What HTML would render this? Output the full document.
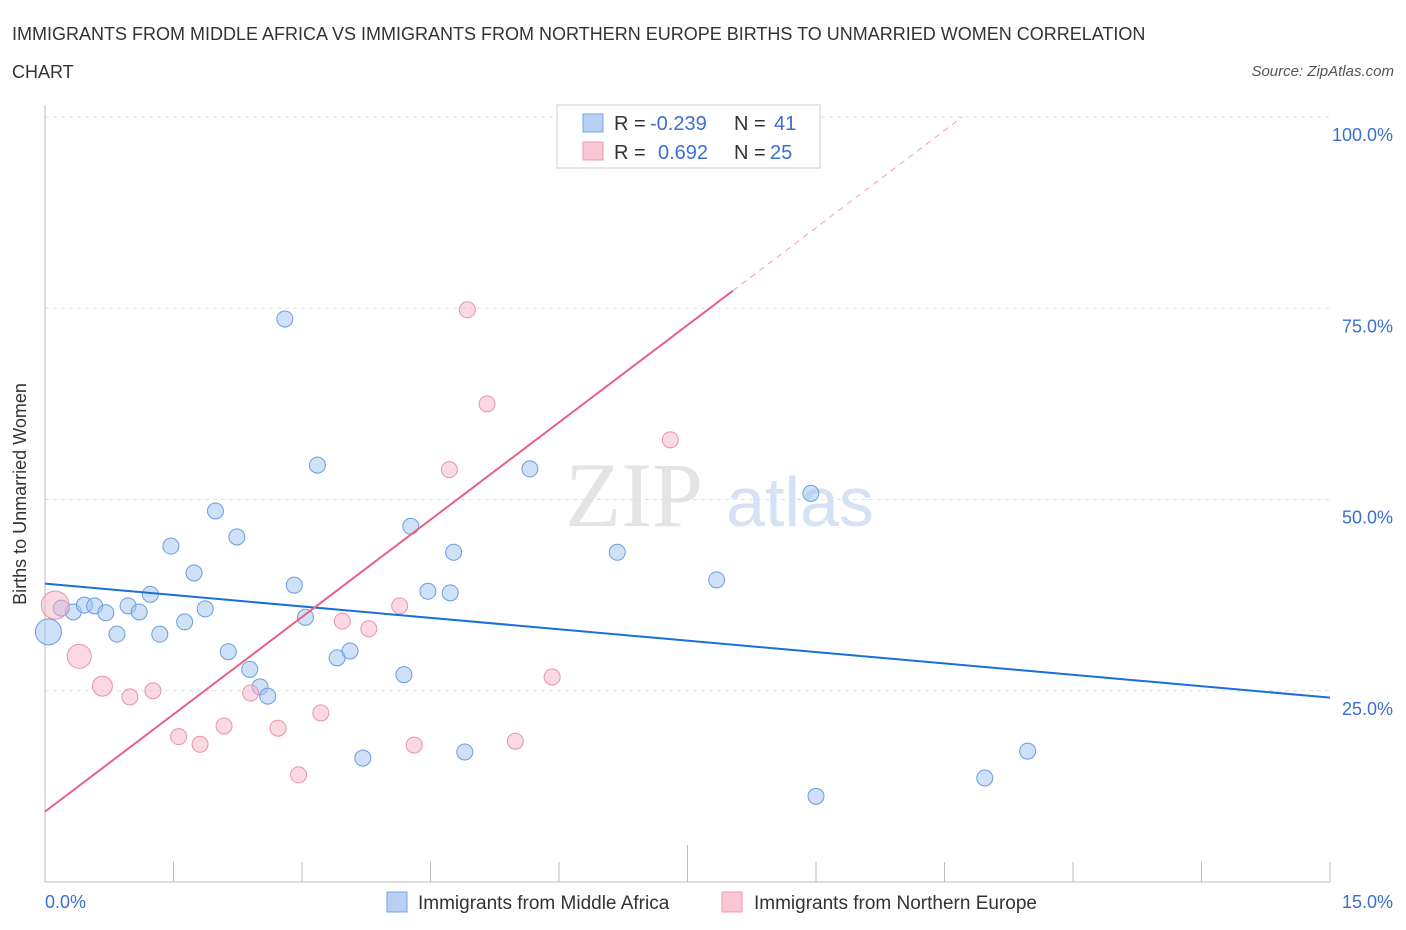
<!DOCTYPE html>
<html><head><meta charset="utf-8"><style>
body{margin:0;background:#fff;font-family:"Liberation Sans",sans-serif;}
svg{display:block}
</style></head><body>
<svg id="chart" width="1406" height="930" xmlns="http://www.w3.org/2000/svg">
<text x="12" y="40" font-size="18" fill="#333">IMMIGRANTS FROM MIDDLE AFRICA VS IMMIGRANTS FROM NORTHERN EUROPE BIRTHS TO UNMARRIED WOMEN CORRELATION</text>
<text x="12" y="78" font-size="18" fill="#333">CHART</text>
<text x="1394" y="76" font-size="15" font-style="italic" fill="#555" text-anchor="end">Source: ZipAtlas.com</text>
<g>
<text x="634" y="526" font-size="92" font-family="Liberation Serif,serif" fill="#e4e4e4" text-anchor="middle">ZIP</text>
<text x="800" y="526" font-size="70" fill="#d4e2f4" text-anchor="middle">atlas</text>
</g>
<g id="grid"></g>
<g id="axes"></g>
<g id="marks"></g>
<text x="26" y="494" font-size="18" fill="#333" text-anchor="middle" transform="rotate(-90 26 494)">Births to Unmarried Women</text>
<g>
<rect x="557" y="105" width="263" height="63" fill="#fff" stroke="#ccc"/>
<rect x="583" y="114" width="20" height="18" fill="#b8d0f4" stroke="#7aa6e4"/>
<rect x="583" y="142" width="20" height="18" fill="#f8c6d4" stroke="#ee9ab2"/>
<text x="614" y="130" font-size="20" fill="#333">R =</text><text x="650" y="130" font-size="20" fill="#3b6fd0">-0.239</text>
<text x="734" y="130" font-size="20" fill="#333">N =</text><text x="774" y="130" font-size="20" fill="#3b6fd0">41</text>
<text x="614" y="159" font-size="20" fill="#333">R =</text><text x="658" y="159" font-size="20" fill="#3b6fd0">0.692</text>
<text x="734" y="159" font-size="20" fill="#333">N =</text><text x="770" y="159" font-size="20" fill="#3b6fd0">25</text>
</g>
<g>
<rect x="387" y="892" width="20" height="20" fill="#b8d0f4" stroke="#7aa6e4"/>
<text x="418" y="909" font-size="19" fill="#333">Immigrants from Middle Africa</text>
<rect x="722" y="892" width="20" height="20" fill="#f8c6d4" stroke="#ee9ab2"/>
<text x="754" y="909" font-size="19" fill="#333">Immigrants from Northern Europe</text>
</g>
</svg>
<script>
const blueX=[0.04,0.19,0.33,0.46,0.58,0.71,0.84,0.97,1.10,1.23,1.34,1.47,1.63,1.74,1.87,1.99,2.14,2.24,2.39,2.51,2.60,2.80,2.91,3.04,3.18,3.41,3.56,3.71,4.19,4.27,4.47,4.73,4.77,4.90,5.66,6.68,7.84,8.94,9.00,10.97,11.47];
const blueY=[32.7,35.8,35.3,36.2,36.1,35.2,32.4,36.1,35.3,37.6,32.4,43.9,34.0,40.4,35.7,48.5,30.1,45.1,27.8,25.5,24.3,73.6,38.8,34.6,54.5,29.3,30.2,16.2,27.1,46.5,38.0,37.8,43.1,17.0,54.0,43.1,39.5,50.8,11.2,13.6,17.1];
const pinkX=[0.12,0.40,0.67,0.99,1.26,1.56,1.81,2.09,2.40,2.72,2.96,3.22,3.47,3.78,4.14,4.31,4.72,4.93,5.16,5.49,5.92,6.42,6.83,7.30,7.67];
const pinkY=[36.2,29.5,25.6,24.2,25.0,19.0,18.0,20.4,24.7,20.1,14.0,22.1,34.1,33.1,36.1,17.9,53.9,74.8,62.5,18.4,26.8,100,100,57.8,100];
const blueTrend=[39.0,24.1];
const pinkTrend=[9.2,8.48];
const yTicks=[25,50,75,100];
const yTickLabels=["25.0%","50.0%","75.0%","100.0%"];
const xTickLabels=["0.0%","15.0%"];
const NS="http://www.w3.org/2000/svg";
const sx=v=>45+v*1285/15, sy=v=>882-v*7.65;
function mk(tag,attrs,parent){const e=document.createElementNS(NS,tag);for(const k in attrs)e.setAttribute(k,attrs[k]);parent.appendChild(e);return e;}
const grid=document.getElementById('grid'),axes=document.getElementById('axes'),marks=document.getElementById('marks');
yTicks.forEach((t,i)=>{
 const g=mk('line',{x1:45,x2:1330,y1:sy(t),y2:sy(t),stroke:'#ddd','stroke-dasharray':'4,4'},grid);
 
 
 const l=mk('text',{x:1393,y:sy(t)+24,'font-size':18,fill:'#3b6fd0','text-anchor':'end'},axes);
 l.textContent=yTickLabels[i];
 
 
});
const ya=mk('line',{x1:45,x2:45,y1:105,y2:882,stroke:'#bbb'},axes);


const xa=mk('line',{x1:45,x2:1330,y1:882,y2:882,stroke:'#bbb'},axes);


for(let i=0;i<=10;i++){const v=i*1.5;const t=mk('line',{x1:sx(v),x2:sx(v),y1:i==5?845:862,y2:882,stroke:'#bbb'},axes);
 
 }
[[0,45,'start'],[15,1393,'end']].forEach((a,i)=>{const l=mk('text',{x:a[1],y:908,'font-size':18,fill:'#3b6fd0','text-anchor':a[2]},axes);l.textContent=xTickLabels[i];
 
 });
const bigB={0:13},bigP={0:14,1:12,2:10};
blueX.forEach((x,i)=>{const c=mk('circle',{cx:sx(x),cy:sy(blueY[i]),r:bigB[i]||8,fill:'rgba(160,195,240,0.5)',stroke:'#6a9de0','stroke-width':1},marks);
 
 });
pinkX.forEach((x,i)=>{const c=mk('circle',{cx:sx(x),cy:sy(pinkY[i]),r:bigP[i]||8,fill:'rgba(245,180,200,0.5)',stroke:'#ea93ad','stroke-width':1},marks);
 
 });
const bl=mk('line',{x1:sx(0),y1:sy(blueTrend[0]),x2:sx(15),y2:sy(blueTrend[1]),stroke:'#1a6fd8','stroke-width':2},marks);


const pe=8.03, pend=(100-pinkTrend[0])/pinkTrend[1];
const pl=mk('line',{x1:sx(0),y1:sy(pinkTrend[0]),x2:sx(pe),y2:sy(pinkTrend[0]+pinkTrend[1]*pe),stroke:'#e8608a','stroke-width':2},marks);


const pd=mk('line',{x1:sx(pe),y1:sy(pinkTrend[0]+pinkTrend[1]*pe),x2:sx(pend),y2:sy(100),stroke:'#f0a0b8','stroke-width':1,'stroke-dasharray':'6,5'},marks);


</script>
</body></html>
